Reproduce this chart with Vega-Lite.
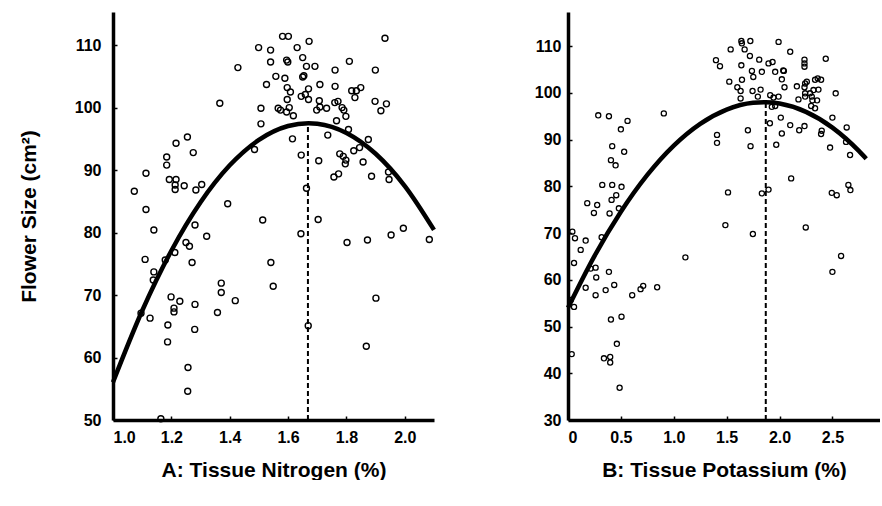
{
  "$schema": "https://vega.github.io/schema/vega-lite/v6.json",
  "background": "white",
  "padding": {"left": 18, "top": 12, "right": 0, "bottom": 0},
  "spacing": 91,
  "config": {
    "view": {"stroke": null},
    "axis": {
      "grid": false,
      "domainColor": "black",
      "domainWidth": 3.5,
      "tickColor": "black",
      "tickWidth": 1.5,
      "tickSize": -4,
      "labelFont": "Liberation Sans",
      "labelFontWeight": "bold",
      "labelFontSize": 16,
      "labelColor": "black",
      "labelPadding": 13,
      "titleFont": "Liberation Sans",
      "titleFontWeight": "bold",
      "titleFontSize": 21,
      "titleColor": "black"
    }
  },
  "datasets": {
    "a": [
      {"x":1.581,"y":111.4},{"x":1.601,"y":111.4},{"x":1.672,"y":110.6},{"x":1.932,"y":111.1},{"x":1.499,"y":109.6},
      {"x":1.540,"y":109.2},{"x":1.631,"y":109.6},{"x":1.650,"y":108.0},{"x":1.540,"y":107.3},{"x":1.595,"y":107.6},
      {"x":1.599,"y":107.3},{"x":1.428,"y":106.4},{"x":1.692,"y":106.6},{"x":1.663,"y":106.6},{"x":1.810,"y":107.4},
      {"x":1.761,"y":106.0},{"x":1.899,"y":106.0},{"x":1.558,"y":105.0},{"x":1.589,"y":104.7},{"x":1.650,"y":104.9},
      {"x":1.654,"y":105.1},{"x":1.526,"y":103.7},{"x":1.597,"y":103.2},{"x":1.608,"y":102.5},{"x":1.670,"y":103.0},
      {"x":1.709,"y":103.7},{"x":1.761,"y":103.4},{"x":1.818,"y":102.7},{"x":1.834,"y":102.7},{"x":1.849,"y":103.2},
      {"x":1.829,"y":101.6},{"x":1.597,"y":101.3},{"x":1.645,"y":101.8},{"x":1.659,"y":102.1},{"x":1.670,"y":101.3},
      {"x":1.707,"y":101.1},{"x":1.709,"y":100.1},{"x":1.698,"y":99.6},{"x":1.732,"y":99.9},{"x":1.760,"y":100.8},
      {"x":1.771,"y":101.0},{"x":1.785,"y":100.0},{"x":1.791,"y":99.6},{"x":1.798,"y":98.6},{"x":1.898,"y":101.0},
      {"x":1.918,"y":99.5},{"x":1.937,"y":100.6},{"x":1.366,"y":100.7},{"x":1.507,"y":99.9},{"x":1.566,"y":99.9},
      {"x":1.574,"y":99.6},{"x":1.604,"y":100.0},{"x":1.595,"y":99.3},{"x":1.618,"y":98.7},{"x":1.507,"y":97.4},
      {"x":1.766,"y":97.9},{"x":1.807,"y":96.5},{"x":1.615,"y":95.0},{"x":1.736,"y":95.6},{"x":1.875,"y":94.9},
      {"x":1.845,"y":93.6},{"x":1.825,"y":93.1},{"x":1.485,"y":93.3},{"x":1.645,"y":92.4},{"x":1.705,"y":91.5},
      {"x":1.777,"y":92.6},{"x":1.789,"y":92.2},{"x":1.798,"y":91.6},{"x":1.796,"y":91.0},{"x":1.857,"y":91.3},
      {"x":1.757,"y":88.9},{"x":1.773,"y":89.4},{"x":1.886,"y":89.0},{"x":1.944,"y":89.7},{"x":1.946,"y":88.5},
      {"x":1.255,"y":95.3},{"x":1.216,"y":94.3},{"x":1.275,"y":92.8},{"x":1.184,"y":92.1},{"x":1.184,"y":90.8},
      {"x":1.113,"y":89.5},{"x":1.073,"y":86.6},{"x":1.193,"y":88.5},{"x":1.216,"y":88.5},{"x":1.213,"y":87.6},
      {"x":1.213,"y":86.9},{"x":1.244,"y":87.5},{"x":1.284,"y":86.8},{"x":1.304,"y":87.7},{"x":1.113,"y":83.7},
      {"x":1.393,"y":84.6},{"x":1.513,"y":82.0},{"x":1.703,"y":82.1},{"x":1.663,"y":87.1},{"x":1.140,"y":80.4},
      {"x":1.281,"y":81.2},{"x":1.321,"y":79.4},{"x":1.250,"y":78.4},{"x":1.262,"y":77.8},{"x":1.212,"y":76.8},
      {"x":1.110,"y":75.7},{"x":1.179,"y":75.6},{"x":1.271,"y":75.2},{"x":1.140,"y":73.7},{"x":1.138,"y":72.4},
      {"x":1.199,"y":69.7},{"x":1.229,"y":69.0},{"x":1.209,"y":67.9},{"x":1.209,"y":67.3},{"x":1.281,"y":68.5},
      {"x":1.127,"y":66.3},{"x":1.096,"y":67.1},{"x":1.188,"y":65.2},{"x":1.280,"y":64.5},{"x":1.187,"y":62.5},
      {"x":1.257,"y":58.4},{"x":1.256,"y":54.6},{"x":1.164,"y":50.2},{"x":1.541,"y":75.2},{"x":1.549,"y":71.4},
      {"x":1.371,"y":71.9},{"x":1.371,"y":70.4},{"x":1.419,"y":69.1},{"x":1.358,"y":67.2},{"x":1.644,"y":79.8},
      {"x":1.669,"y":65.1},{"x":1.802,"y":78.4},{"x":1.872,"y":78.8},{"x":1.953,"y":79.6},{"x":1.995,"y":80.7},
      {"x":2.084,"y":78.9},{"x":1.901,"y":69.5},{"x":1.868,"y":61.8}
    ],
    "b": [
      {"x":1.639,"y":111.1},{"x":1.644,"y":110.6},{"x":1.724,"y":111.1},{"x":1.991,"y":110.9},{"x":2.101,"y":108.8},
      {"x":1.538,"y":109.3},{"x":1.670,"y":109.3},{"x":1.720,"y":107.9},{"x":1.808,"y":107.1},{"x":1.896,"y":106.3},
      {"x":1.934,"y":106.6},{"x":2.236,"y":107.1},{"x":2.236,"y":106.3},{"x":2.236,"y":105.6},{"x":2.437,"y":107.3},
      {"x":1.399,"y":107.0},{"x":1.437,"y":105.7},{"x":1.639,"y":105.9},{"x":1.739,"y":104.7},{"x":1.833,"y":104.5},
      {"x":1.752,"y":103.4},{"x":1.959,"y":104.5},{"x":2.035,"y":104.8},{"x":2.041,"y":104.7},{"x":2.022,"y":102.9},
      {"x":2.047,"y":101.2},{"x":1.525,"y":102.4},{"x":1.645,"y":102.8},{"x":1.601,"y":101.2},{"x":1.632,"y":100.4},
      {"x":1.632,"y":98.8},{"x":1.745,"y":100.4},{"x":1.821,"y":100.7},{"x":1.795,"y":99.2},{"x":1.912,"y":99.5},
      {"x":1.943,"y":99.0},{"x":1.991,"y":99.2},{"x":1.959,"y":97.2},{"x":1.927,"y":97.0},{"x":2.164,"y":101.4},
      {"x":2.242,"y":102.0},{"x":2.258,"y":102.4},{"x":2.236,"y":101.2},{"x":2.242,"y":99.9},{"x":2.242,"y":99.2},
      {"x":2.289,"y":99.9},{"x":2.305,"y":99.2},{"x":2.321,"y":100.6},{"x":2.368,"y":100.7},{"x":2.336,"y":102.8},
      {"x":2.361,"y":103.1},{"x":2.393,"y":102.8},{"x":2.311,"y":98.4},{"x":2.355,"y":98.4},{"x":2.179,"y":98.6},
      {"x":2.299,"y":97.2},{"x":2.336,"y":96.7},{"x":2.531,"y":99.9},{"x":2.500,"y":94.7},{"x":2.635,"y":92.6},
      {"x":2.629,"y":89.5},{"x":2.667,"y":86.7},{"x":2.399,"y":91.9},{"x":2.393,"y":91.2},{"x":2.478,"y":88.3},
      {"x":2.012,"y":94.7},{"x":2.101,"y":93.1},{"x":2.186,"y":92.0},{"x":2.236,"y":92.9},{"x":2.022,"y":91.3},
      {"x":1.969,"y":88.9},{"x":1.909,"y":93.5},{"x":1.701,"y":92.0},{"x":1.726,"y":88.6},{"x":1.409,"y":91.0},
      {"x":1.409,"y":89.3},{"x":0.906,"y":95.6},{"x":0.286,"y":95.2},{"x":0.387,"y":95.0},{"x":0.563,"y":94.0},
      {"x":0.500,"y":92.2},{"x":0.418,"y":88.6},{"x":0.531,"y":87.4},{"x":0.406,"y":85.6},{"x":0.450,"y":84.5},
      {"x":0.324,"y":80.3},{"x":0.418,"y":80.3},{"x":0.506,"y":79.9},{"x":0.456,"y":78.1},{"x":0.412,"y":77.1},
      {"x":2.110,"y":81.7},{"x":1.513,"y":78.7},{"x":1.833,"y":78.5},{"x":1.896,"y":79.3},{"x":2.494,"y":78.6},
      {"x":2.541,"y":78.1},{"x":2.651,"y":80.3},{"x":2.670,"y":79.2},{"x":0.182,"y":76.4},{"x":0.276,"y":76.0},
      {"x":0.245,"y":74.3},{"x":0.393,"y":74.2},{"x":0.481,"y":75.3},{"x":0.041,"y":70.3},{"x":0.066,"y":68.9},
      {"x":0.167,"y":68.4},{"x":0.120,"y":66.4},{"x":0.057,"y":63.6},{"x":0.318,"y":69.1},{"x":0.261,"y":62.6},
      {"x":0.267,"y":60.5},{"x":0.387,"y":61.7},{"x":0.167,"y":58.3},{"x":0.261,"y":56.7},{"x":0.356,"y":57.8},
      {"x":0.437,"y":58.9},{"x":0.214,"y":62.4},{"x":0.057,"y":54.2},{"x":0.025,"y":55.7},{"x":0.607,"y":56.7},
      {"x":0.686,"y":58.0},{"x":0.711,"y":58.7},{"x":0.843,"y":58.4},{"x":1.110,"y":64.8},{"x":1.488,"y":71.7},
      {"x":1.748,"y":69.8},{"x":2.248,"y":71.2},{"x":2.582,"y":65.1},{"x":2.500,"y":61.7},{"x":0.406,"y":51.5},
      {"x":0.506,"y":52.1},{"x":0.462,"y":46.3},{"x":0.340,"y":43.2},{"x":0.399,"y":43.5},{"x":0.399,"y":42.3},
      {"x":0.488,"y":36.9},{"x":0.035,"y":44.1}
    ],
    "curveA": [
      {"x":1.0,"y":56.05},{"x":1.1,"y":67.48},{"x":1.2,"y":77.09},{"x":1.3,"y":84.85},{"x":1.4,"y":90.76},
      {"x":1.5,"y":94.83},{"x":1.6,"y":97.05},{"x":1.67,"y":97.5},{"x":1.7,"y":97.42},{"x":1.8,"y":95.94},
      {"x":1.9,"y":92.61},{"x":2.0,"y":87.44},{"x":2.1,"y":80.42}
    ],
    "curveB": [
      {"x":0.0,"y":54.0},{"x":0.25,"y":65.08},{"x":0.5,"y":74.56},{"x":0.75,"y":82.44},{"x":1.0,"y":88.71},
      {"x":1.25,"y":93.37},{"x":1.5,"y":96.42},{"x":1.75,"y":97.87},{"x":1.87,"y":98.0},{"x":2.0,"y":97.71},
      {"x":2.25,"y":95.94},{"x":2.5,"y":92.57},{"x":2.75,"y":87.58},{"x":2.82,"y":85.9}
    ],
    "peakA": [{"x":1.668,"y":50,"y2":97.5}],
    "peakB": [{"x":1.87,"y":30,"y2":98}]
  },
  "hconcat": [
    {
      "width": 321,
      "height": 408,
      "layer": [
        {
          "data": {"name": "a"},
          "mark": {"type": "point", "shape": "circle", "filled": false, "color": "black", "strokeWidth": 1.4, "size": 36, "opacity": 1},
          "encoding": {
            "x": {"field": "x", "type": "quantitative", "scale": {"domain": [1.0, 2.1], "nice": false, "zero": false},
                  "axis": {"title": "A:  Tissue Nitrogen (%)", "titlePadding": 14,
                           "values": [1.0,1.1,1.2,1.3,1.4,1.5,1.6,1.7,1.8,1.9,2.0,2.1],
                           "labelExpr": "round(datum.value*10) % 2 == 0 && datum.value < 2.05 ? format(datum.value, '.1f') : ''"}},
            "y": {"field": "y", "type": "quantitative", "scale": {"domain": [50, 115.3], "nice": false, "zero": false},
                  "axis": {"title": "Flower Size (cm²)", "titlePadding": 35, "labelPadding": 16,
                           "values": [50,55,60,65,70,75,80,85,90,95,100,105,110,115],
                           "labelExpr": "datum.value % 10 == 0 && datum.value <= 110 ? datum.label : ''"}}
          }
        },
        {
          "data": {"name": "curveA"},
          "mark": {"type": "line", "color": "black", "strokeWidth": 4.5, "interpolate": "monotone"},
          "encoding": {"x": {"field": "x", "type": "quantitative"}, "y": {"field": "y", "type": "quantitative"}}
        },
        {
          "data": {"name": "peakA"},
          "mark": {"type": "rule", "color": "black", "strokeWidth": 2, "strokeDash": [5, 3]},
          "encoding": {"x": {"field": "x", "type": "quantitative"}, "y": {"field": "y", "type": "quantitative"}, "y2": {"field": "y2"}}
        }
      ]
    },
    {
      "width": 312,
      "height": 408,
      "layer": [
        {
          "data": {"name": "b"},
          "mark": {"type": "point", "shape": "circle", "filled": false, "color": "black", "strokeWidth": 1.3, "size": 26, "opacity": 1},
          "encoding": {
            "x": {"field": "x", "type": "quantitative", "scale": {"domain": [0, 2.95], "nice": false, "zero": false},
                  "axis": {"title": "B:  Tissue Potassium (%)", "titlePadding": 14,
                           "values": [0,0.25,0.5,0.75,1.0,1.25,1.5,1.75,2.0,2.25,2.5,2.75],
                           "labelExpr": "datum.value == 0 ? '0' : (round(datum.value*4) % 2 == 0 ? format(datum.value, '.1f') : '')"}},
            "y": {"field": "y", "type": "quantitative", "scale": {"domain": [30, 117.3], "nice": false, "zero": false},
                  "axis": {"title": null, "labelPadding": 11,
                           "values": [30,35,40,45,50,55,60,65,70,75,80,85,90,95,100,105,110,115],
                           "labelExpr": "datum.value % 10 == 0 && datum.value <= 110 ? datum.label : ''"}}
          }
        },
        {
          "data": {"name": "curveB"},
          "mark": {"type": "line", "color": "black", "strokeWidth": 4.5, "interpolate": "monotone"},
          "encoding": {"x": {"field": "x", "type": "quantitative"}, "y": {"field": "y", "type": "quantitative"}}
        },
        {
          "data": {"name": "peakB"},
          "mark": {"type": "rule", "color": "black", "strokeWidth": 2, "strokeDash": [5, 3]},
          "encoding": {"x": {"field": "x", "type": "quantitative"}, "y": {"field": "y", "type": "quantitative"}, "y2": {"field": "y2"}}
        }
      ]
    }
  ]
}
